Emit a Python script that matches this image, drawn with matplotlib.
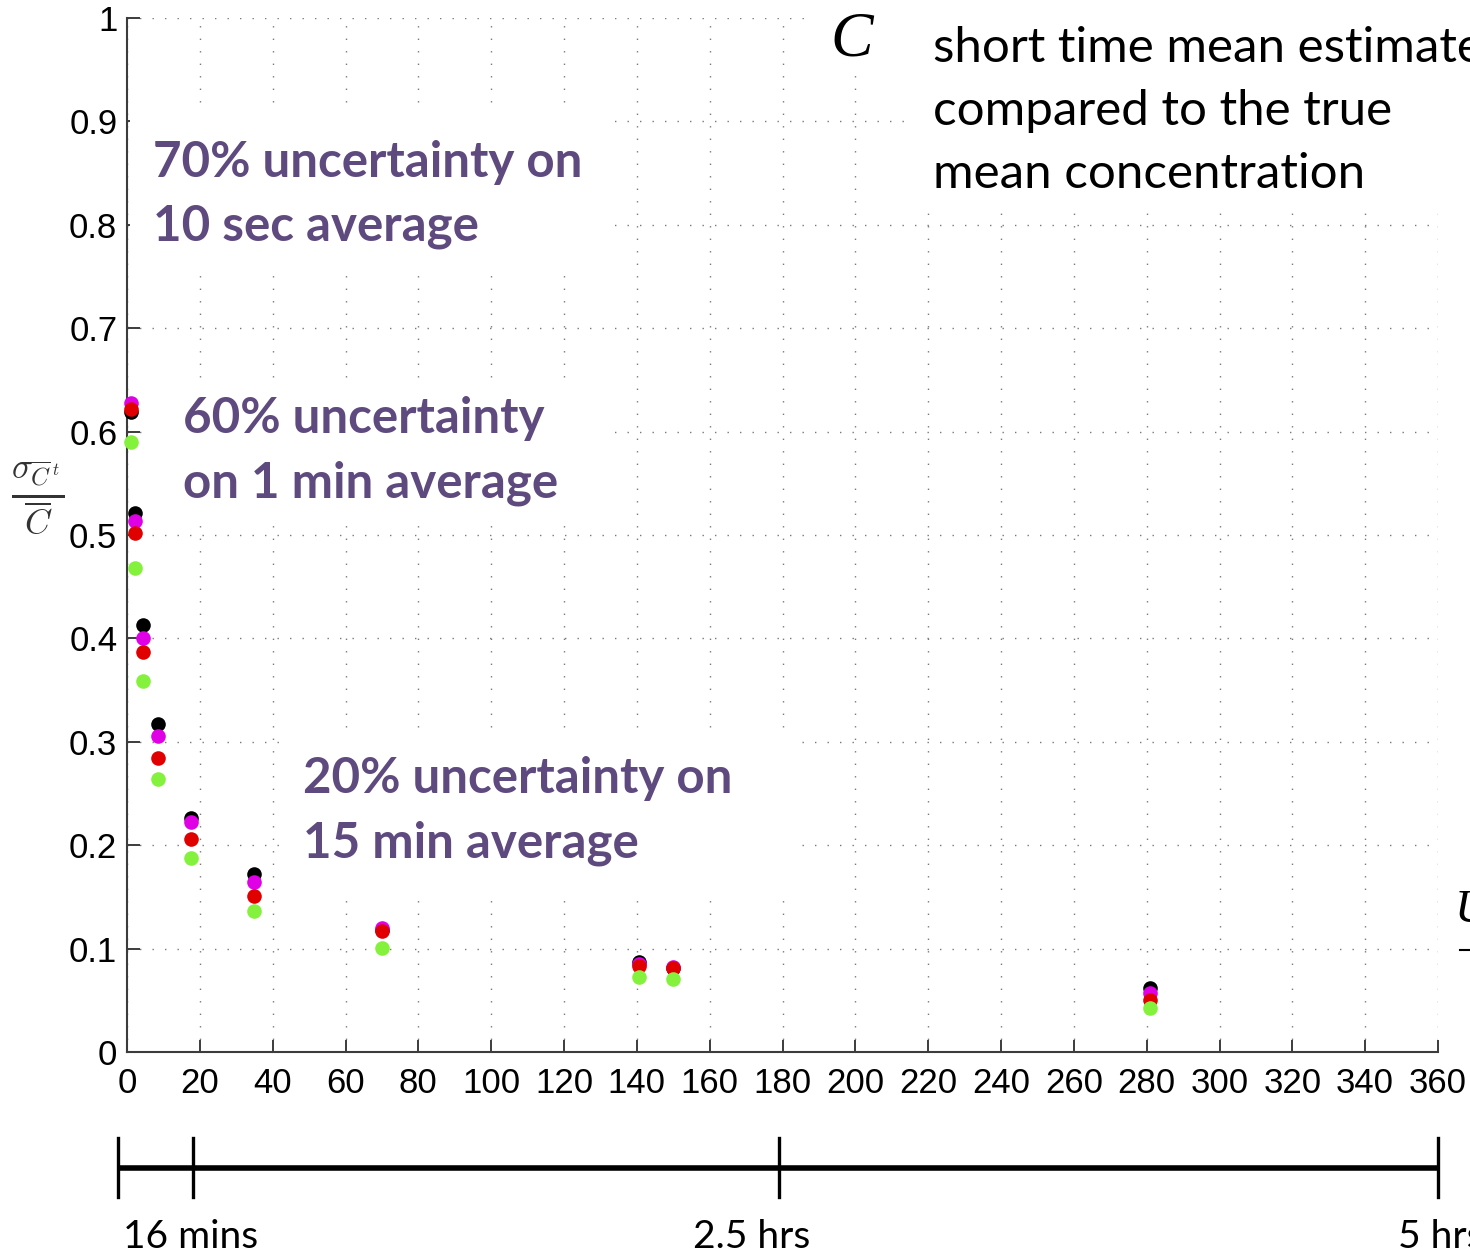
import matplotlib
matplotlib.use("Agg")
import matplotlib.pyplot as plt
from matplotlib.patches import Rectangle
from matplotlib.lines import Line2D

# ---- data ----
window_minutes = [1.0, 2.2, 4.3, 8.6, 17.5, 35, 70, 140.5, 150, 281]
ratio_black = [0.619, 0.521, 0.413, 0.317, 0.226, 0.172, 0.118, 0.087, 0.081, 0.062]
ratio_magenta = [0.628, 0.514, 0.400, 0.306, 0.222, 0.164, 0.120, 0.085, 0.082, 0.057]
ratio_red = [0.622, 0.502, 0.387, 0.284, 0.206, 0.151, 0.117, 0.083, 0.081, 0.050]
ratio_green = [0.590, 0.468, 0.359, 0.264, 0.188, 0.136, 0.101, 0.073, 0.071, 0.043]
x_ticks = list(range(0, 361, 20))
y_ticks = [0, 0.1, 0.2, 0.3, 0.4, 0.5, 0.6, 0.7, 0.8, 0.9, 1]
y_tick_labels = ["0", "0.1", "0.2", "0.3", "0.4", "0.5", "0.6", "0.7", "0.8", "0.9", "1"]
timeline_marks = [-2.5, 18, 179, 360]
timeline_labels = ["16 mins", "2.5 hrs", "5 hrs"]

W, H = 1470, 1253
fig = plt.figure(figsize=(W / 100, H / 100), dpi=100)
fig.patch.set_facecolor("white")
plt.rcParams["mathtext.fontset"] = "cm"


def fx(px):
    return px / W


def fy(py):
    return 1 - py / H


ax = fig.add_axes([fx(127), fy(1052), fx(1438) - fx(127), fy(18) - fy(1052)])
ax.set_xlim(0, 360)
ax.set_ylim(0, 1)
ax.set_xticks(x_ticks)
ax.set_yticks(y_ticks)
ax.set_yticklabels(y_tick_labels)
ax.set_axisbelow(True)
ax.grid(True, color="#7a7a7a", linestyle=(0, (1, 8)), linewidth=1.0)
for s in ["top", "right"]:
    ax.spines[s].set_visible(False)
for s in ["left", "bottom"]:
    ax.spines[s].set_color("#3c3c3c")
    ax.spines[s].set_linewidth(1.5)
ax.tick_params(direction="in", length=9, width=1.4, color="#3c3c3c",
               labelsize=25, labelcolor="black")
ax.tick_params(axis="x", pad=11)
ax.tick_params(axis="y", pad=7)
for lab in ax.get_xticklabels() + ax.get_yticklabels():
    lab.set_fontfamily("Liberation Sans")


# white boxes behind annotations (hide grid)
def white_box(x0, y0, x1, y1):
    r = Rectangle((fx(x0), fy(y1)), fx(x1) - fx(x0), fy(y0) - fy(y1),
                  transform=fig.transFigure, facecolor="white",
                  edgecolor="none", zorder=1, clip_on=False)
    ax.add_artist(r)


white_box(130, 108, 615, 270)
white_box(815, 0, 910, 68)
white_box(910, 0, 1470, 205)
white_box(150, 378, 615, 518)
white_box(280, 730, 800, 890)

ms = 10.5
for yv, c in [(ratio_black, "#000000"), (ratio_magenta, "#e000e6"),
              (ratio_red, "#e00000"), (ratio_green, "#84f23c")]:
    ax.plot(window_minutes, yv, linestyle="none", marker="o", markersize=ms,
            color=c, markeredgewidth=0, zorder=3, clip_on=False)

# y label
fig.text(fx(38), fy(497), r"$\frac{\sigma_{\overline{C}^{\,t}}}{\overline{C}}$",
         fontsize=36, color="#333333", ha="center", va="center")

purple = "#5e4a7e"
afont = dict(family="Lato", weight="bold", fontsize=35.5, color=purple, va="baseline", ha="left")
fig.text(fx(153), fy(177), "70% uncertainty on", **afont)
fig.text(fx(153), fy(241), "10 sec average", **afont)
fig.text(fx(183), fy(433), "60% uncertainty", **afont)
fig.text(fx(183), fy(497), "on 1 min average", **afont)
fig.text(fx(303), fy(793), "20% uncertainty on", **afont)
fig.text(fx(303), fy(857), "15 min average", **afont)

rfont = dict(family="Lato", fontsize=35.5, color="black", va="baseline", ha="left")
fig.text(fx(933), fy(62), "short time mean estimate", **rfont)
fig.text(fx(933), fy(125), "compared to the true", **rfont)
fig.text(fx(933), fy(188), "mean concentration", **rfont)
fig.text(fx(830), fy(55), "C", family="Liberation Serif", style="italic",
         fontsize=46, color="black", va="baseline", ha="left")
fig.text(fx(1455), fy(922), "U", family="Liberation Serif", style="italic",
         fontsize=34, color="black", va="baseline", ha="left")
fig.add_artist(Line2D([fx(1460), fx(1470)], [fy(950), fy(950)], color="black",
                      lw=1.5, transform=fig.transFigure))

# timeline below axis
tax = fig.add_axes([fx(127), fy(1200), fx(1438) - fx(127), fy(1135) - fy(1200)])
tax.set_xlim(0, 360)
tax.set_ylim(0, 1)
tax.axis("off")
tax.plot([timeline_marks[0], timeline_marks[-1]], [0.5, 0.5], color="black",
         lw=4, clip_on=False, solid_capstyle="butt")
for m in timeline_marks:
    tax.plot([m, m], [0.05, 0.95], color="black", lw=2.4, clip_on=False)

tfont = dict(family="Lato", fontsize=28, color="black", va="baseline", ha="left")
fig.text(fx(123), fy(1248), timeline_labels[0], **tfont)
fig.text(fx(693), fy(1248), timeline_labels[1], **tfont)
fig.text(fx(1398), fy(1248), timeline_labels[2], **tfont)

fig.savefig("out.png", dpi=100, facecolor="white")
